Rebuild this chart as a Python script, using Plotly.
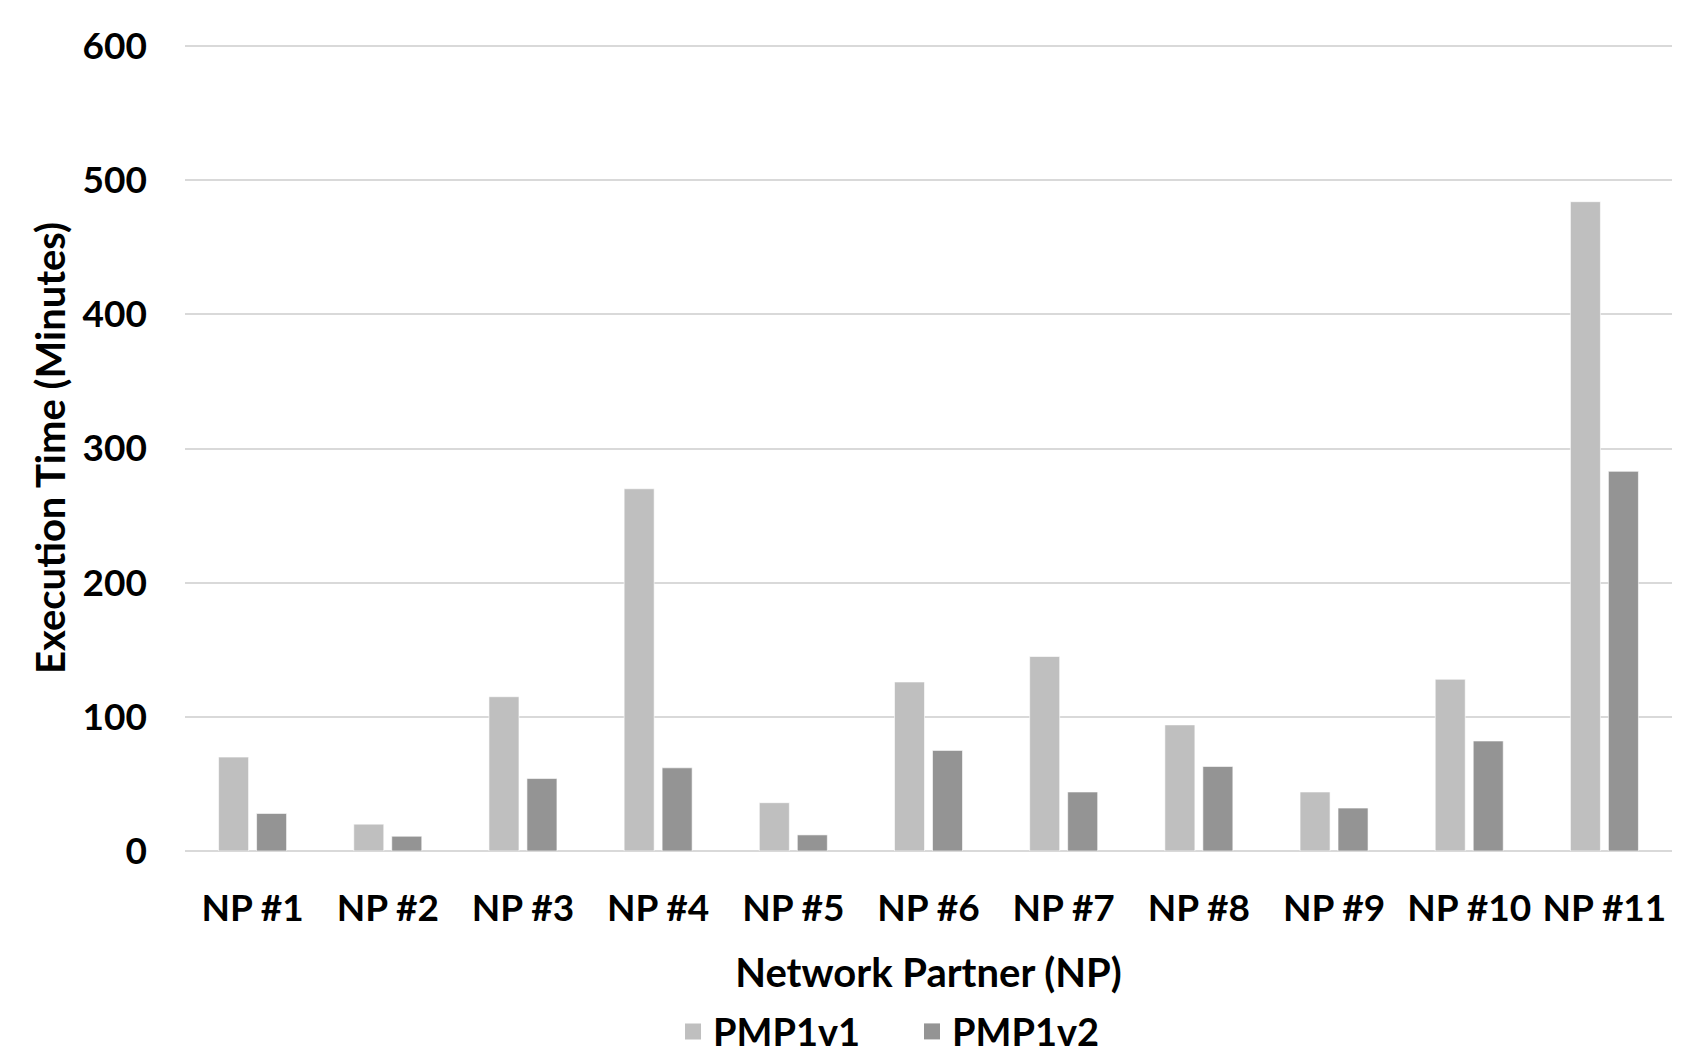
import plotly.graph_objects as go

categories = ["NP #1", "NP #2", "NP #3", "NP #4", "NP #5", "NP #6",
              "NP #7", "NP #8", "NP #9", "NP #10", "NP #11"]
pmp1v1 = [70, 20, 115, 270, 36, 126, 145, 94, 44, 128, 484]
pmp1v2 = [28, 11, 54, 62, 12, 75, 44, 63, 32, 82, 283]
y_ticks = [0, 100, 200, 300, 400, 500, 600]

C1 = "#bfbfbf"
C2 = "#949494"
FONT = "Lato"
TICK = dict(family=FONT, size=37, color="black", weight="bold")
TITLE = dict(family=FONT, size=40, color="black", weight="bold")

fig = go.Figure()
fig.add_trace(go.Bar(x=categories, y=pmp1v1, name="PMP1v1", marker_color=C1,
                     marker_line=dict(color="rgba(255,255,255,0.6)", width=1),
                     showlegend=False))
fig.add_trace(go.Bar(x=categories, y=pmp1v2, name="PMP1v2", marker_color=C2,
                     marker_line=dict(color="rgba(255,255,255,0.6)", width=1),
                     showlegend=False))
# legend entries with larger square swatches
fig.add_trace(go.Scatter(x=[None], y=[None], mode="markers", name="PMP1v1",
                         marker=dict(symbol="square", size=24, color=C1)))
fig.add_trace(go.Scatter(x=[None], y=[None], mode="markers", name="PMP1v2",
                         marker=dict(symbol="square", size=24, color=C2)))

fig.update_layout(
    width=1706, height=1056,
    margin=dict(l=185, r=34, t=45, b=205, autoexpand=False),
    paper_bgcolor="white", plot_bgcolor="white",
    barmode="group", bargap=0.438, bargroupgap=0.21,
    font=dict(family=FONT, size=36, color="black", weight="bold"),
    showlegend=True,
    legend=dict(orientation="h", xref="container", yref="container",
                x=0.3945, xanchor="left", y=0.023, yanchor="middle",
                font=dict(family=FONT, size=38, color="black", weight="bold"),
                itemsizing="trace", itemwidth=30, tracegroupgap=0,
                entrywidth=194, entrywidthmode="pixels",
                bgcolor="rgba(0,0,0,0)"),
)
fig.update_xaxes(
    type="category", categoryorder="array", categoryarray=categories,
    showgrid=False, showline=False, zeroline=False, ticks="",
    ticklabelstandoff=32,
    tickfont=TICK,
    title=dict(text="Network Partner (NP)", standoff=30, font=TITLE),
)
fig.update_yaxes(
    range=[0, 600.8], tickvals=y_ticks, ticktext=[str(v) for v in y_ticks],
    showgrid=True, gridcolor="#d9d9d9", gridwidth=1.5,
    zeroline=True, zerolinecolor="#d9d9d9", zerolinewidth=2,
    showline=False, ticks="", ticklabelstandoff=37,
    tickfont=TICK,
    title=dict(text="Execution Time (Minutes)", standoff=4, font=TITLE),
)

fig.write_html("out.html", config={"displayModeBar": False},
               post_script="document.body.style.margin='0';document.body.style.overflow='hidden';")
